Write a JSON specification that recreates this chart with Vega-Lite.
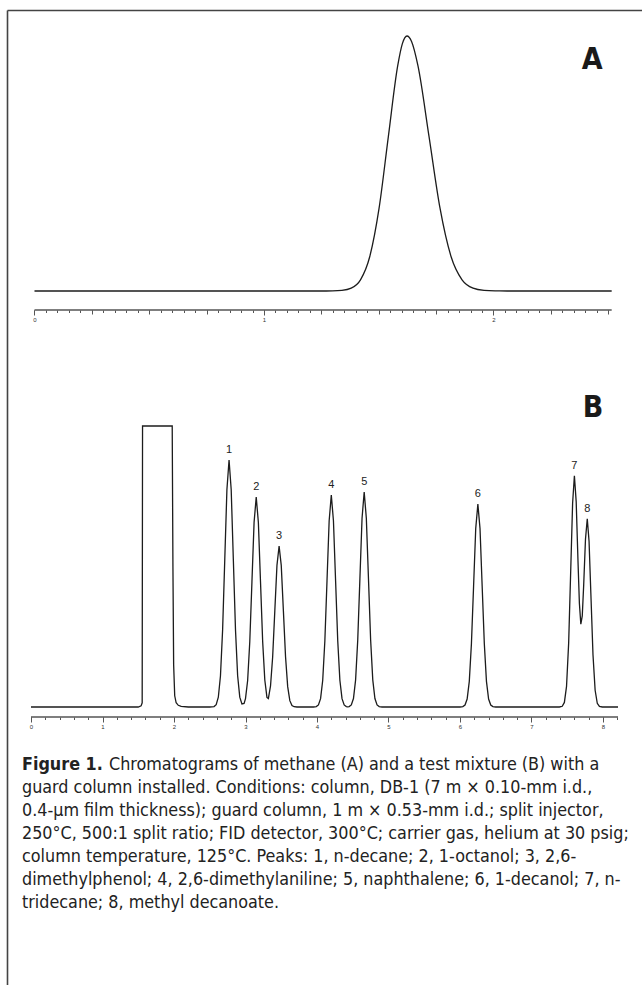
{
  "$schema": "https://vega.github.io/schema/vega-lite/v6.json",
  "padding": 0,
  "spacing": 0,
  "bounds": "flush",
  "background": "white",
  "config": {"view": {"stroke": null}, "axis": {"grid": false, "domain": false, "title": null}},
  "datasets": {
    "chromA": [
      {"t": 0, "s": 0}, {"t": 1.25, "s": 0}, {"t": 1.299, "s": 0.03}, {"t": 1.3395, "s": 0.22},
      {"t": 1.38, "s": 1.11}, {"t": 1.4205, "s": 4.39}, {"t": 1.461, "s": 13.53}, {"t": 1.5015, "s": 32.47},
      {"t": 1.542, "s": 60.65}, {"t": 1.5825, "s": 88.25}, {"t": 1.603, "s": 97.0}, {"t": 1.623, "s": 100},
      {"t": 1.643, "s": 97.85}, {"t": 1.671, "s": 88.25}, {"t": 1.719, "s": 60.65}, {"t": 1.767, "s": 32.47},
      {"t": 1.815, "s": 13.53}, {"t": 1.863, "s": 4.39}, {"t": 1.911, "s": 1.11}, {"t": 1.959, "s": 0.22},
      {"t": 2.007, "s": 0.03}, {"t": 2.06, "s": 0}, {"t": 2.515, "s": 0}
    ],
    "chromB": [
      {"t": 0, "s": 0}, {"t": 1.5, "s": 0}, {"t": 1.54, "s": 0.4}, {"t": 1.555, "s": 1.5},
      {"t": 1.56, "s": 100}, {"t": 1.975, "s": 100}, {"t": 1.985, "s": 50}, {"t": 1.995, "s": 15},
      {"t": 2.01, "s": 4}, {"t": 2.03, "s": 1.5}, {"t": 2.06, "s": 0.6}, {"t": 2.1, "s": 0.2},
      {"t": 2.2, "s": 0}, {"t": 2.5, "s": 0}, {"t": 2.53, "s": 0.03},
      {"t": 2.56, "s": 0.16}, {"t": 2.59, "s": 0.84}, {"t": 2.62, "s": 3.47}, {"t": 2.65, "s": 11.1},
      {"t": 2.68, "s": 27.5}, {"t": 2.71, "s": 52.4}, {"t": 2.74, "s": 77.3}, {"t": 2.77, "s": 87.9},
      {"t": 2.8, "s": 77.3}, {"t": 2.83, "s": 52.4}, {"t": 2.86, "s": 27.5}, {"t": 2.89, "s": 11.1},
      {"t": 2.92, "s": 3.5}, {"t": 2.95, "s": 1.1}, {"t": 2.98, "s": 1.3}, {"t": 3.0, "s": 3.0},
      {"t": 3.03, "s": 9.43}, {"t": 3.06, "s": 23.3}, {"t": 3.09, "s": 44.5}, {"t": 3.12, "s": 65.7},
      {"t": 3.15, "s": 74.7}, {"t": 3.18, "s": 65.7}, {"t": 3.21, "s": 44.5}, {"t": 3.24, "s": 23.3},
      {"t": 3.27, "s": 9.6}, {"t": 3.3, "s": 3.4}, {"t": 3.32, "s": 3.0}, {"t": 3.35, "s": 7.5},
      {"t": 3.38, "s": 17.9}, {"t": 3.41, "s": 34.2}, {"t": 3.44, "s": 50.4}, {"t": 3.47, "s": 57.3},
      {"t": 3.5, "s": 50.4}, {"t": 3.53, "s": 34.2}, {"t": 3.56, "s": 17.9}, {"t": 3.59, "s": 7.24},
      {"t": 3.62, "s": 2.26}, {"t": 3.65, "s": 0.55}, {"t": 3.68, "s": 0.1}, {"t": 3.72, "s": 0},
      {"t": 3.95, "s": 0}, {"t": 3.99, "s": 0.14}, {"t": 4.02, "s": 0.72}, {"t": 4.05, "s": 2.98},
      {"t": 4.08, "s": 9.52}, {"t": 4.11, "s": 23.6}, {"t": 4.14, "s": 44.9}, {"t": 4.17, "s": 66.3},
      {"t": 4.2, "s": 75.4}, {"t": 4.23, "s": 66.3}, {"t": 4.26, "s": 44.9}, {"t": 4.29, "s": 23.6},
      {"t": 4.32, "s": 9.52}, {"t": 4.35, "s": 2.98}, {"t": 4.38, "s": 0.72}, {"t": 4.41, "s": 0.14},
      {"t": 4.43, "s": 0.08}, {"t": 4.45, "s": 0.14}, {"t": 4.48, "s": 0.73}, {"t": 4.51, "s": 3.02},
      {"t": 4.54, "s": 9.66}, {"t": 4.57, "s": 23.9}, {"t": 4.6, "s": 45.6}, {"t": 4.63, "s": 67.2},
      {"t": 4.66, "s": 76.5}, {"t": 4.69, "s": 67.2}, {"t": 4.72, "s": 45.6}, {"t": 4.75, "s": 23.9},
      {"t": 4.78, "s": 9.66}, {"t": 4.81, "s": 3.02}, {"t": 4.84, "s": 0.73}, {"t": 4.87, "s": 0.14},
      {"t": 4.91, "s": 0}, {"t": 6.0, "s": 0}, {"t": 6.04, "s": 0.13}, {"t": 6.07, "s": 0.69},
      {"t": 6.1, "s": 2.85}, {"t": 6.13, "s": 9.12}, {"t": 6.16, "s": 22.6}, {"t": 6.19, "s": 43.0},
      {"t": 6.22, "s": 63.5}, {"t": 6.25, "s": 72.2}, {"t": 6.28, "s": 63.5}, {"t": 6.31, "s": 43.0},
      {"t": 6.34, "s": 22.6}, {"t": 6.37, "s": 9.12}, {"t": 6.4, "s": 2.85}, {"t": 6.43, "s": 0.69},
      {"t": 6.46, "s": 0.13}, {"t": 6.5, "s": 0}, {"t": 7.39, "s": 0}, {"t": 7.43, "s": 0.25},
      {"t": 7.46, "s": 1.63}, {"t": 7.49, "s": 7.31}, {"t": 7.52, "s": 22.9}, {"t": 7.55, "s": 49.9},
      {"t": 7.575, "s": 72.5}, {"t": 7.6, "s": 82.3}, {"t": 7.625, "s": 73.1}, {"t": 7.65, "s": 52.1},
      {"t": 7.67, "s": 36.8}, {"t": 7.69, "s": 29.5}, {"t": 7.71, "s": 32.4}, {"t": 7.73, "s": 43.4},
      {"t": 7.755, "s": 59.7}, {"t": 7.78, "s": 67.0}, {"t": 7.805, "s": 59.0}, {"t": 7.83, "s": 40.6},
      {"t": 7.86, "s": 18.6}, {"t": 7.89, "s": 5.95}, {"t": 7.92, "s": 1.32}, {"t": 7.95, "s": 0.21},
      {"t": 7.99, "s": 0}, {"t": 8.21, "s": 0}
    ],
    "peaks": [
      {"peak": "1", "t": 2.77, "h": 87.9}, {"peak": "2", "t": 3.15, "h": 74.7},
      {"peak": "3", "t": 3.47, "h": 57.3}, {"peak": "4", "t": 4.2, "h": 75.4},
      {"peak": "5", "t": 4.66, "h": 76.5}, {"peak": "6", "t": 6.25, "h": 72.2},
      {"peak": "7", "t": 7.6, "h": 82.3}, {"peak": "8", "t": 7.78, "h": 67.0}
    ],
    "caption": [
      {"line": 2, "text": "guard column installed. Conditions: column, DB-1 (7 m × 0.10-mm i.d.,"},
      {"line": 3, "text": "0.4-µm film thickness); guard column, 1 m × 0.53-mm i.d.; split injector,"},
      {"line": 4, "text": "250°C, 500:1 split ratio; FID detector, 300°C; carrier gas, helium at 30 psig;"},
      {"line": 5, "text": "column temperature, 125°C. Peaks: 1, n-decane; 2, 1-octanol; 3, 2,6-"},
      {"line": 6, "text": "dimethylphenol; 4, 2,6-dimethylaniline; 5, naphthalene; 6, 1-decanol; 7, n-"},
      {"line": 7, "text": "tridecane; 8, methyl decanoate."}
    ]
  },
  "vconcat": [
    {
      "width": 642,
      "height": 310,
      "resolve": {"axis": {"x": "independent"}},
      "layer": [
        {
          "data": {"name": "chromA"},
          "mark": {"type": "line", "interpolate": "monotone", "color": "#1c1c1c", "strokeWidth": 1.3},
          "encoding": {
            "x": {"field": "t", "type": "quantitative", "scale": {"domain": [-0.1503, 2.6471], "nice": false, "zero": false},
              "axis": {"orient": "bottom", "values": [0,0.05,0.1,0.15,0.2,0.25,0.3,0.35,0.4,0.45,0.5,0.55,0.6,0.65,0.7,0.75,0.8,0.85,0.9,0.95,1,1.05,1.1,1.15,1.2,1.25,1.3,1.35,1.4,1.45,1.5,1.55,1.6,1.65,1.7,1.75,1.8,1.85,1.9,1.95,2,2.05,2.1,2.15,2.2,2.25,2.3,2.35,2.4,2.45,2.5],
                "labels": false, "tickSize": 2.5, "tickColor": "#555", "tickWidth": 1, "domain": false, "grid": false, "title": null}},
            "y": {"field": "s", "type": "quantitative", "scale": {"domain": [-7.451, 114.118], "nice": false, "zero": false}, "axis": null}
          }
        },
        {
          "data": {"values": [{}]},
          "mark": {"type": "rule", "color": "#555", "strokeWidth": 1.3},
          "encoding": {
            "x": {"datum": 0, "type": "quantitative", "scale": {"domain": [-0.1503, 2.6471], "nice": false, "zero": false},
              "axis": {"orient": "bottom", "values": [0.25,0.5,0.75,1.25,1.5,1.75,2.25,2.5], "labels": false, "tickSize": 4, "tickColor": "#555", "tickWidth": 1, "domain": false, "grid": false, "title": null}},
            "x2": {"datum": 2.515},
            "y": {"datum": -7.451, "type": "quantitative", "scale": {"domain": [-7.451, 114.118], "nice": false, "zero": false}, "axis": null}
          }
        },
        {
          "data": {"values": [{}]},
          "mark": {"type": "text", "text": "A", "font": "DejaVu Sans Condensed, sans-serif", "fontWeight": "bold", "fontSize": 30, "color": "#1a1a1a", "align": "center", "baseline": "middle"},
          "encoding": {
            "x": {"datum": 2.43, "type": "quantitative", "scale": {"domain": [-0.1503, 2.6471], "nice": false, "zero": false},
              "axis": {"orient": "bottom", "values": [0, 1, 2], "labels": true, "tickSize": 5, "tickColor": "#555", "tickWidth": 1, "domain": false, "grid": false, "title": null,
                "labelFont": "Liberation Sans", "labelFontSize": 6, "labelPadding": 1, "labelColor": "#333", "labelOverlap": false, "labelFlush": false, "labelBound": false}},
            "y": {"datum": 90.6, "type": "quantitative", "scale": {"domain": [-7.451, 114.118], "nice": false, "zero": false}, "axis": null}
          }
        },
        {
          "data": {"values": [{}]},
          "mark": {"type": "rule", "color": "#444", "strokeWidth": 1.6},
          "encoding": {
            "x": {"datum": -0.1176, "type": "quantitative", "scale": {"domain": [-0.1503, 2.6471], "nice": false, "zero": false}, "axis": null},
            "x2": {"datum": 2.6471},
            "y": {"datum": 110.0, "type": "quantitative", "scale": {"domain": [-7.451, 114.118], "nice": false, "zero": false}, "axis": null}
          }
        },
        {
          "data": {"values": [{}]},
          "mark": {"type": "rule", "color": "#444", "strokeWidth": 1.6},
          "encoding": {
            "x": {"datum": -0.1176, "type": "quantitative", "scale": {"domain": [-0.1503, 2.6471], "nice": false, "zero": false}, "axis": null},
            "y": {"datum": 110.0, "type": "quantitative", "scale": {"domain": [-7.451, 114.118], "nice": false, "zero": false}, "axis": null},
            "y2": {"datum": -7.451}
          }
        }
      ]
    },
    {
      "width": 642,
      "height": 407,
      "resolve": {"axis": {"x": "independent"}},
      "layer": [
        {
          "data": {"name": "chromB"},
          "mark": {"type": "line", "interpolate": "linear", "color": "#1c1c1c", "strokeWidth": 1.3},
          "encoding": {
            "x": {"field": "t", "type": "quantitative", "scale": {"domain": [-0.4336, 8.5455], "nice": false, "zero": false},
              "axis": {"orient": "bottom", "values": [0,0.2,0.4,0.6,0.8,1,1.2,1.4,1.6,1.8,2,2.2,2.4,2.6,2.8,3,3.2,3.4,3.6,3.8,4,4.2,4.4,4.6,4.8,5,5.2,5.4,5.6,5.8,6,6.2,6.4,6.6,6.8,7,7.2,7.4,7.6,7.8,8,8.2],
                "labels": false, "tickSize": 2.5, "tickColor": "#555", "tickWidth": 1, "domain": false, "grid": false, "title": null}},
            "y": {"field": "s", "type": "quantitative", "scale": {"domain": [-3.559, 141.28], "nice": false, "zero": false}, "axis": null}
          }
        },
        {
          "data": {"values": [{}]},
          "mark": {"type": "rule", "color": "#555", "strokeWidth": 1.3},
          "encoding": {
            "x": {"datum": 0, "type": "quantitative", "scale": {"domain": [-0.4336, 8.5455], "nice": false, "zero": false},
              "axis": {"orient": "bottom", "values": [0,1,2,3,4,5,6,7,8], "labels": true, "tickSize": 5, "tickColor": "#555", "tickWidth": 1, "domain": false, "grid": false, "title": null,
                "labelFont": "Liberation Sans", "labelFontSize": 6, "labelPadding": 1, "labelColor": "#333", "labelOverlap": false, "labelFlush": false, "labelBound": false}},
            "x2": {"datum": 8.21},
            "y": {"datum": -3.559, "type": "quantitative", "scale": {"domain": [-3.559, 141.28], "nice": false, "zero": false}, "axis": null}
          }
        },
        {
          "data": {"name": "peaks"},
          "mark": {"type": "text", "font": "Liberation Sans", "fontSize": 11, "color": "#222", "align": "center", "baseline": "middle", "dy": -10},
          "encoding": {
            "x": {"field": "t", "type": "quantitative", "scale": {"domain": [-0.4336, 8.5455], "nice": false, "zero": false}, "axis": null},
            "y": {"field": "h", "type": "quantitative", "scale": {"domain": [-3.559, 141.28], "nice": false, "zero": false}, "axis": null},
            "text": {"field": "peak"}
          }
        },
        {
          "data": {"values": [{}]},
          "mark": {"type": "text", "text": "B", "font": "DejaVu Sans Condensed, sans-serif", "fontWeight": "bold", "fontSize": 30, "color": "#1a1a1a", "align": "center", "baseline": "middle"},
          "encoding": {
            "x": {"datum": 7.86, "type": "quantitative", "scale": {"domain": [-0.4336, 8.5455], "nice": false, "zero": false}, "axis": null},
            "y": {"datum": 106.4, "type": "quantitative", "scale": {"domain": [-3.559, 141.28], "nice": false, "zero": false}, "axis": null}
          }
        },
        {
          "data": {"values": [{}]},
          "mark": {"type": "rule", "color": "#444", "strokeWidth": 1.6},
          "encoding": {
            "x": {"datum": -0.3287, "type": "quantitative", "scale": {"domain": [-0.4336, 8.5455], "nice": false, "zero": false}, "axis": null}
          }
        }
      ]
    },
    {
      "width": 642,
      "height": 268,
      "layer": [
        {
          "data": {"name": "caption"},
          "mark": {"type": "text", "font": "DejaVu Sans Condensed, sans-serif", "fontSize": 17.8, "color": "#222", "align": "left", "baseline": "middle"},
          "encoding": {
            "x": {"datum": 22, "type": "quantitative", "scale": {"domain": [0, 642], "nice": false, "zero": false}, "axis": null},
            "y": {"field": "line", "type": "quantitative", "scale": {"domain": [-1.087, 10.565], "reverse": true, "nice": false, "zero": false}, "axis": null},
            "text": {"field": "text"}
          }
        },
        {
          "data": {"values": [{"line": 1, "text": "Figure 1."}]},
          "mark": {"type": "text", "font": "DejaVu Sans Condensed, sans-serif", "fontSize": 17.8, "fontWeight": "bold", "color": "#222", "align": "left", "baseline": "middle"},
          "encoding": {
            "x": {"datum": 22, "type": "quantitative", "scale": {"domain": [0, 642], "nice": false, "zero": false}, "axis": null},
            "y": {"field": "line", "type": "quantitative", "scale": {"domain": [-1.087, 10.565], "reverse": true, "nice": false, "zero": false}, "axis": null},
            "text": {"field": "text"}
          }
        },
        {
          "data": {"values": [{"line": 1, "text": "Chromatograms of methane (A) and a test mixture (B) with a"}]},
          "mark": {"type": "text", "font": "DejaVu Sans Condensed, sans-serif", "fontSize": 17.8, "color": "#222", "align": "left", "baseline": "middle"},
          "encoding": {
            "x": {"datum": 109, "type": "quantitative", "scale": {"domain": [0, 642], "nice": false, "zero": false}, "axis": null},
            "y": {"field": "line", "type": "quantitative", "scale": {"domain": [-1.087, 10.565], "reverse": true, "nice": false, "zero": false}, "axis": null},
            "text": {"field": "text"}
          }
        },
        {
          "data": {"values": [{}]},
          "mark": {"type": "rule", "color": "#444", "strokeWidth": 1.6},
          "encoding": {
            "x": {"datum": 7.5, "type": "quantitative", "scale": {"domain": [0, 642], "nice": false, "zero": false}, "axis": null}
          }
        }
      ]
    }
  ]
}
